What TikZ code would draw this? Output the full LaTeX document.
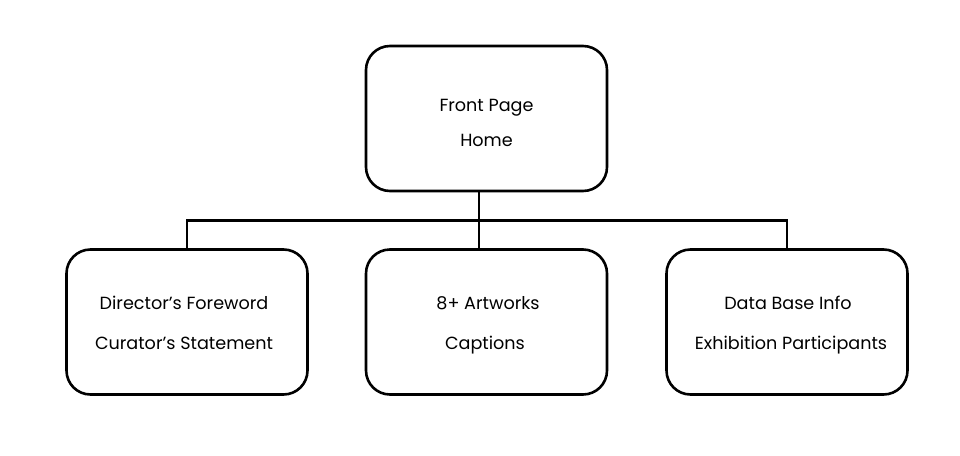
\documentclass[tikz,border=0pt]{standalone}
\usepackage{fontspec}
\setmainfont{Poppins}
\begin{document}
\begin{tikzpicture}[x=1pt,y=-1pt,
  box/.style={draw=black,line width=2.6pt,rounded corners=24pt,minimum width=241pt,minimum height=145pt,inner sep=0pt},
  txt/.style={anchor=base,inner sep=0pt,font=\fontsize{17.6}{20}\selectfont},
  conn/.style={draw=black,line width=2.2pt}]
\useasboundingbox (0,0) rectangle (960,455);
\fill[white] (0,0) rectangle (960,455);
\node[box] (front) at (486.5,118.5) {};
\node[box] (dir) at (187,322) {};
\node[box] (art) at (486.5,322) {};
\node[box] (data) at (787,322) {};
\node[txt] (t1) at (486.5,111) {Front Page};
\node[txt] (t2) at (486.5,146) {Home};
\node[txt] (t3) at (184,309) {Director’s Foreword};
\node[txt] (t4) at (184,349) {Curator’s Statement};
\node[txt] (t5) at (488,309) {8+ Artworks};
\node[txt] (t6) at (485,349) {Captions};
\node[txt] (t7) at (788,309) {Data Base Info};
\node[txt] (t8) at (791,349) {Exhibition Participants};
\coordinate (j) at (479,220.5);
\draw[conn] (j |- front.south) -- (j);
\draw[conn] (dir.north) |- (j) -| (data.north);
\draw[conn] (j) -- (j |- art.north);
\end{tikzpicture}
\end{document}
